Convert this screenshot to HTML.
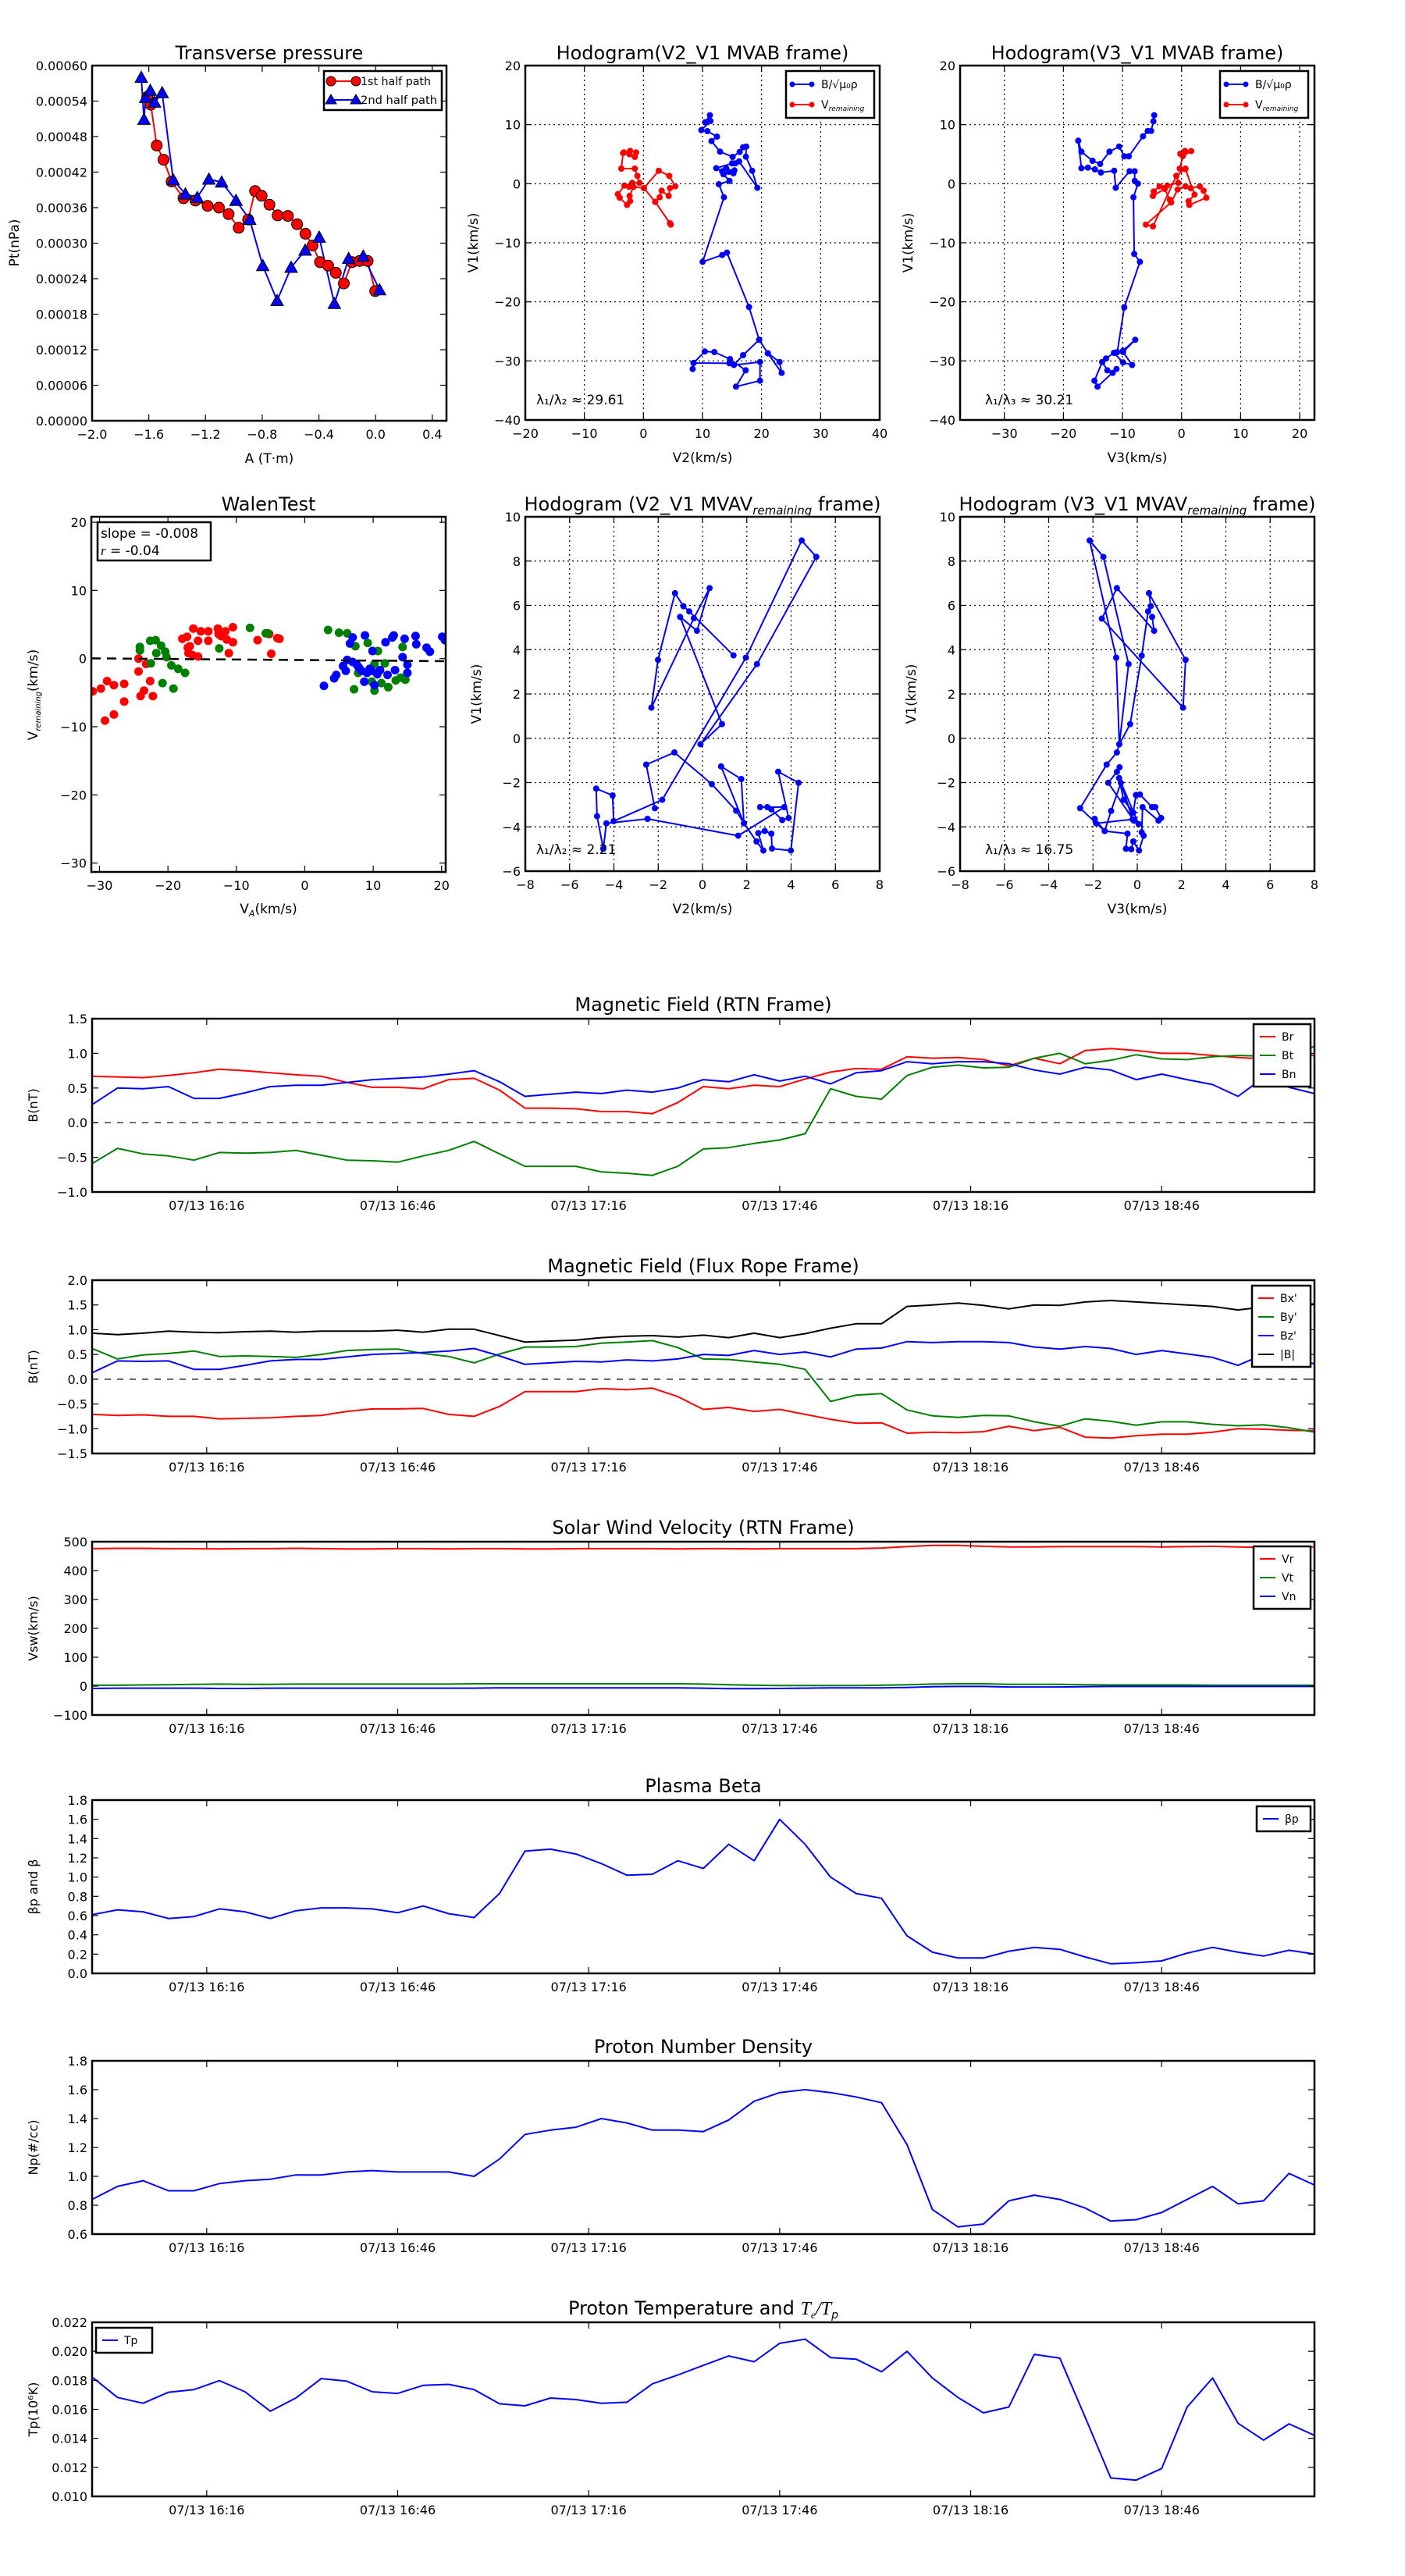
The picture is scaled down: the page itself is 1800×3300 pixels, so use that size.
<!DOCTYPE html>
<html><head><meta charset="utf-8"><title>Flux rope analysis</title>
<style>
html,body{margin:0;padding:0;background:#fff;}
svg{display:block;font-family:"DejaVu Sans","Liberation Sans",sans-serif;}
</style></head>
<body>
<svg id="fig" width="1800" height="3300" viewBox="0 0 1800 3300" xmlns="http://www.w3.org/2000/svg">
<rect x="0" y="0" width="1800" height="3300" fill="#fff"/>
</svg>
<script>
// ---------------- DATA ----------------
const tpRedA=[-1.611,-1.586,-1.544,-1.496,-1.439,-1.355,-1.271,-1.185,-1.105,-1.037,-0.966,-0.899,-0.850,-0.804,-0.749,-0.691,-0.619,-0.554,-0.495,-0.445,-0.392,-0.335,-0.281,-0.224,-0.167,-0.113,-0.056,-0.003];
const tpRedPt=[0.000547,0.000534,0.000465,0.000441,0.000404,0.000376,0.000372,0.000363,0.000360,0.000349,0.000326,0.000340,0.000388,0.000380,0.000365,0.000347,0.000346,0.000332,0.000316,0.000296,0.000268,0.000262,0.000250,0.000232,0.000268,0.000270,0.000270,0.000219];
const tpBlueA=[-1.653,-1.634,-1.622,-1.590,-1.559,-1.506,-1.428,-1.342,-1.258,-1.176,-1.086,-0.985,-0.888,-0.796,-0.695,-0.596,-0.497,-0.398,-0.291,-0.190,-0.087,0.028];
const tpBluePt=[0.000580,0.000509,0.000546,0.000558,0.000538,0.000554,0.000407,0.000383,0.000377,0.000408,0.000403,0.000372,0.000340,0.000262,0.000203,0.000259,0.000288,0.000310,0.000198,0.000274,0.000278,0.000221];
const tpXTicks=[-2.0,-1.6,-1.2,-0.8,-0.4,0.0,0.4];
const tpXLabels=["\u22122.0","\u22121.6","\u22121.2","\u22120.8","\u22120.4","0.0","0.4"];
const tpYTicks=[0,0.00006,0.00012,0.00018,0.00024,0.00030,0.00036,0.00042,0.00048,0.00054,0.00060];
const tpYLabels=["0.00000","0.00006","0.00012","0.00018","0.00024","0.00030","0.00036","0.00042","0.00048","0.00054","0.00060"];

const h1BV2=[11.26,10.46,11.35,9.80,10.82,12.45,11.52,12.98,15.10,16.29,16.87,17.40,17.35,18.41,19.29,16.20,15.54,15.01,12.32,13.33,14.00,14.44,15.23,15.41,13.55,14.57,12.76,13.64,10.02,13.33,14.13,17.88,19.60,21.06,23.05,23.40,21.06,19.60,16.87,15.32,19.74,19.74,15.67,17.31,14.66,12.01,10.38,8.48,8.34,8.48,14.57];
const h1BV1=[11.59,10.40,10.62,9.07,8.90,7.97,7.22,5.42,4.54,5.37,6.17,6.30,4.58,2.20,-0.70,3.79,3.44,3.44,2.64,2.11,2.64,2.03,1.76,2.25,1.59,0.48,-0.09,-2.29,-13.22,-12.07,-11.67,-20.88,-26.43,-28.72,-30.18,-32.03,-28.72,-26.43,-29.03,-30.70,-30.18,-33.35,-34.36,-31.59,-29.69,-28.50,-28.41,-30.35,-31.37,-30.35,-30.40];
const h1VV2=[-3.31,-2.25,-1.24,-1.46,-2.34,-3.44,-3.75,-1.46,-1.02,-0.66,-1.90,-2.43,-3.22,-4.33,-4.02,-2.78,-2.25,-2.34,-1.68,0.09,1.99,4.64,4.50,1.99,2.74,3.09,4.28,4.50,5.39,4.37,2.60,0.09];
const h1VV1=[5.29,5.55,5.29,4.54,4.98,5.20,2.56,2.56,1.32,0.13,0.13,-0.53,-0.31,-1.76,-2.38,-3.61,-2.95,-2.07,-0.53,-0.75,-3.08,-6.92,-6.70,-3.08,-2.29,-1.19,-2.07,-0.75,-0.44,1.32,2.20,-0.75];
const h2BV3=[-4.63,-4.76,-5.15,-5.73,-6.52,-8.94,-9.69,-10.57,-12.20,-13.79,-15.07,-16.96,-17.49,-16.96,-15.86,-14.67,-13.66,-11.41,-11.15,-8.81,-7.93,-7.93,-7.40,-8.15,-8.02,-7.05,-9.69,-10.88,-9.91,-7.84,-9.91,-8.37,-9.91,-11.45,-12.78,-13.44,-12.56,-11.67,-11.01,-14.23,-14.76,-13.44];
const h2BV1=[11.59,10.57,8.94,8.94,8.02,4.63,4.63,6.30,5.42,3.35,3.88,5.42,7.27,2.64,2.73,2.42,1.89,2.20,-0.70,2.11,2.11,0.48,0.00,-2.29,-11.89,-13.22,-20.93,-28.50,-28.28,-26.43,-28.50,-30.70,-30.26,-28.63,-29.60,-30.18,-31.59,-32.03,-31.37,-34.36,-33.35,-30.18];
const h2VV3=[-0.22,0.57,1.63,0.22,-0.31,0.66,-0.88,-0.53,-2.42,-3.74,-4.71,-4.85,-2.86,-1.98,-1.76,-0.66,0.66,1.54,3.08,3.74,4.19,1.32,1.19,2.20,0.66,-0.88,-4.85,-6.04,-1.76];
const h2VV1=[5.07,5.55,5.51,4.67,2.56,2.56,1.32,0.13,-0.31,-0.44,-1.32,-2.07,-0.88,-2.73,-3.17,-0.97,-0.44,-0.75,-0.44,-1.19,-2.38,-3.61,-2.95,-1.85,2.47,1.32,-7.22,-6.92,-3.17];
const walRedVA=[-31.0,-29.8,-28.9,-27.9,-26.4,-26.4,-27.9,-29.2,-24.3,-24.3,-23.2,-22.6,-23.5,-24.0,-22.2,-17.9,-17.2,-16.3,-15.2,-14.1,-12.7,-11.6,-10.5,-15.6,-14.1,-12.6,-12.2,-11.4,-10.5,-16.8,-17.0,-16.4,-15.6,-17.1,-11.1,-6.9,-4.9,-4.0,-3.7,-5.2];
const walRedV=[-4.8,-4.4,-3.3,-3.9,-3.7,-6.3,-8.2,-9.1,0.0,-1.9,-0.8,-3.3,-4.7,-5.5,-5.5,2.9,3.2,4.4,4.0,4.0,4.4,4.0,4.6,2.6,2.6,3.6,3.3,2.8,2.4,1.8,0.8,0.5,0.3,1.6,0.8,2.7,0.7,3.0,2.9,3.6];
const walGreenVA=[-24.1,-24.1,-22.6,-21.8,-21.0,-21.7,-20.4,-20.2,-19.5,-18.5,-17.5,-20.8,-19.2,-22.5,-12.5,-8.0,-5.7,-5.4,3.4,5.0,6.2,7.4,9.2,10.7,14.3,7.2,10.2,10.2,11.7,7.8,9.8,11.2,12.2,13.3,14.7,14.0];
const walGreenV=[1.7,1.2,2.6,2.7,1.9,0.8,1.0,0.2,-1.0,-1.5,-2.1,-3.6,-4.4,-0.7,1.5,4.5,3.7,3.7,4.2,3.8,3.7,1.8,2.3,1.1,1.7,-4.5,-4.7,-0.8,-0.7,-2.1,-3.4,-3.6,-4.2,-3.2,-3.1,-2.8];
const walBlueVA=[2.8,4.3,4.6,6.0,5.6,6.2,6.6,7.0,8.8,9.9,11.8,12.8,13.0,14.6,16.2,16.3,17.8,18.3,20.1,20.5,14.3,15.0,15.0,13.2,12.1,11.0,9.8,9.1,8.3,7.6,7.0,8.7,10.2,10.6,9.5,7.9];
const walBlueV=[-4.0,-2.9,-2.4,-1.8,-1.1,-0.2,2.2,3.1,3.4,1.1,2.4,3.1,3.4,2.9,3.3,2.1,1.6,1.0,3.2,2.7,0.2,-0.9,-2.1,-1.7,-2.4,-1.7,-1.8,-2.1,-1.8,-0.9,-0.5,-3.4,-3.9,-2.3,-1.5,-1.3];
const walFit=[-0.008,-0.22];
const h3V2=[1.40,-0.60,-0.86,-1.24,-2.01,-2.31,-0.39,0.32,-0.25,-1.01,0.88,-0.09,2.46,5.14,4.48,1.96,-1.82,-4.01,-4.06,-4.80,-4.76,-4.48,-4.34,-2.48,1.61,3.69,2.60,2.93,3.11,3.60,3.89,3.42,4.34,3.99,3.14,3.11,2.81,2.52,2.75,2.44,1.87,0.84,1.75,1.87,1.52,0.42,-1.27,-2.54,-2.15];
const h3V1=[3.74,5.73,5.96,6.55,3.54,1.38,5.42,6.78,4.85,5.48,0.64,-0.27,3.35,8.19,8.93,3.64,-2.78,-3.74,-2.58,-2.27,-3.52,-4.99,-3.84,-3.64,-4.40,-3.11,-3.11,-3.11,-3.21,-3.69,-3.60,-1.51,-2.01,-5.07,-4.98,-4.31,-4.19,-4.28,-5.07,-4.66,-3.84,-1.27,-1.84,-3.84,-3.27,-2.07,-0.64,-1.19,-3.16];
const h4V3=[-0.80,-0.92,-1.31,-0.15,0.06,-0.82,-0.62,-0.18,-0.06,0.12,0.67,0.81,1.08,0.96,0.24,0.20,0.29,0.08,-0.18,-0.27,-0.51,-0.44,-1.47,-1.92,-1.86,-0.21,-0.74,-1.18,-1.47,-2.58,-1.38,-0.92,-0.81,-0.95,-2.15,-1.53,-0.39,-0.81,-0.32,0.20,0.49,0.61,0.53,2.18,2.07,-1.60,-0.92,0.76,0.67];
const h4V1=[-1.31,-1.52,-2.01,-3.72,-3.87,-1.80,-2.78,-3.36,-2.56,-2.54,-3.11,-3.11,-3.60,-3.72,-3.11,-4.25,-4.40,-5.07,-4.66,-5.01,-4.99,-4.31,-4.19,-3.64,-3.84,-3.66,-2.01,-3.28,-4.19,-3.16,-1.19,-0.64,-0.27,3.64,8.93,8.19,3.35,-0.27,0.64,3.73,5.73,5.96,6.55,3.54,1.38,5.40,6.78,4.85,5.48];

const sampleMinutes=[0,4,8,12,16,20,24,28,32,36,40,44,48,52,56,60,64,68,72,76,80,84,88,92,96,100,104,108,112,116,120,124,128,132,136,140,144,148,152,156,160,164,168,172,176,180,184,188,192];
const timeTickMinutes=[18,48,78,108,138,168];
const timeTickLabels=["07/13 16:16","07/13 16:46","07/13 17:16","07/13 17:46","07/13 18:16","07/13 18:46"];
const Br=[0.67,0.66,0.65,0.68,0.72,0.77,0.75,0.72,0.69,0.67,0.58,0.51,0.51,0.49,0.62,0.64,0.47,0.21,0.21,0.20,0.16,0.16,0.13,0.29,0.52,0.49,0.54,0.52,0.63,0.73,0.78,0.77,0.95,0.93,0.94,0.91,0.82,0.93,0.85,1.04,1.07,1.04,1.00,1.00,0.97,0.94,0.92,0.97,0.97];
const Bt=[-0.59,-0.37,-0.45,-0.48,-0.54,-0.43,-0.44,-0.43,-0.40,-0.47,-0.54,-0.55,-0.57,-0.48,-0.40,-0.27,-0.45,-0.63,-0.63,-0.63,-0.71,-0.73,-0.76,-0.63,-0.38,-0.36,-0.30,-0.25,-0.16,0.49,0.38,0.34,0.68,0.80,0.83,0.79,0.80,0.93,1.00,0.85,0.90,0.98,0.92,0.91,0.95,0.97,0.96,0.97,1.10];
const Bn=[0.26,0.50,0.49,0.52,0.35,0.35,0.43,0.52,0.54,0.54,0.58,0.62,0.64,0.66,0.70,0.75,0.59,0.38,0.41,0.44,0.42,0.47,0.44,0.50,0.62,0.59,0.69,0.60,0.67,0.56,0.72,0.75,0.88,0.85,0.88,0.88,0.85,0.76,0.70,0.80,0.76,0.62,0.70,0.62,0.55,0.38,0.65,0.51,0.42];
const Bx=[-0.71,-0.73,-0.72,-0.75,-0.75,-0.80,-0.79,-0.78,-0.75,-0.73,-0.65,-0.60,-0.60,-0.59,-0.71,-0.75,-0.55,-0.25,-0.25,-0.25,-0.19,-0.21,-0.18,-0.35,-0.61,-0.57,-0.65,-0.61,-0.71,-0.81,-0.89,-0.88,-1.09,-1.07,-1.08,-1.06,-0.95,-1.04,-0.97,-1.17,-1.19,-1.14,-1.11,-1.11,-1.07,-1.00,-1.01,-1.03,-1.04];
const By=[0.62,0.41,0.49,0.52,0.57,0.46,0.47,0.46,0.44,0.50,0.58,0.60,0.61,0.52,0.46,0.33,0.51,0.65,0.65,0.66,0.73,0.75,0.78,0.64,0.41,0.40,0.35,0.30,0.20,-0.45,-0.32,-0.29,-0.62,-0.74,-0.77,-0.73,-0.74,-0.86,-0.95,-0.80,-0.85,-0.93,-0.86,-0.86,-0.91,-0.94,-0.92,-0.98,-1.07];
const Bz=[0.13,0.37,0.36,0.37,0.20,0.20,0.28,0.37,0.40,0.40,0.45,0.50,0.52,0.54,0.57,0.62,0.47,0.30,0.33,0.36,0.35,0.39,0.37,0.41,0.50,0.48,0.58,0.50,0.55,0.45,0.61,0.63,0.76,0.74,0.76,0.76,0.74,0.65,0.61,0.66,0.62,0.50,0.58,0.51,0.44,0.28,0.50,0.43,0.31];
const Bmag=[0.93,0.90,0.93,0.97,0.95,0.94,0.96,0.97,0.95,0.97,0.97,0.97,0.99,0.95,1.01,1.01,0.88,0.75,0.77,0.79,0.84,0.87,0.88,0.85,0.89,0.84,0.93,0.84,0.92,1.03,1.12,1.12,1.47,1.50,1.54,1.49,1.42,1.50,1.49,1.56,1.59,1.56,1.53,1.50,1.47,1.40,1.46,1.49,1.52];
const Vr=[476,477,477,476,476,475,476,476,477,476,475,475,476,476,475,476,476,475,475,476,476,476,476,475,476,476,475,476,476,476,476,478,483,487,487,484,482,482,483,483,483,483,482,483,484,482,480,482,482];
const Vt=[3,3,4,5,6,7,6,6,7,7,7,7,7,7,7,8,8,8,8,8,8,8,8,8,7,5,3,2,2,2,2,3,5,7,8,8,6,6,6,5,4,4,4,4,3,3,3,3,3];
const Vn=[-8,-7,-7,-7,-7,-8,-8,-7,-7,-7,-7,-7,-7,-7,-7,-7,-6,-6,-6,-6,-6,-6,-6,-6,-7,-9,-9,-8,-7,-6,-6,-6,-5,-2,-1,-1,-3,-3,-3,-2,-1,-1,-1,-1,-1,-1,-1,-1,-1];
const beta=[0.61,0.66,0.64,0.57,0.59,0.67,0.64,0.57,0.65,0.68,0.68,0.67,0.63,0.70,0.62,0.58,0.83,1.27,1.29,1.24,1.14,1.02,1.03,1.17,1.09,1.34,1.17,1.60,1.34,1.00,0.83,0.78,0.39,0.22,0.16,0.16,0.23,0.27,0.25,0.17,0.10,0.11,0.13,0.21,0.27,0.22,0.18,0.24,0.20];
const Np=[0.84,0.93,0.97,0.90,0.90,0.95,0.97,0.98,1.01,1.01,1.03,1.04,1.03,1.03,1.03,1.00,1.12,1.29,1.32,1.34,1.40,1.37,1.32,1.32,1.31,1.39,1.52,1.58,1.60,1.58,1.55,1.51,1.22,0.77,0.65,0.67,0.83,0.87,0.84,0.78,0.69,0.70,0.75,0.84,0.93,0.81,0.83,1.02,0.94];
const Tp=[0.01823,0.01682,0.01642,0.01718,0.01736,0.01798,0.01721,0.01587,0.01678,0.01812,0.01794,0.01721,0.0171,0.01765,0.01772,0.01736,0.01638,0.01624,0.01678,0.01667,0.01642,0.01649,0.01776,0.01837,0.01903,0.01968,0.01928,0.02055,0.02084,0.01957,0.01946,0.01859,0.02000,0.01816,0.01682,0.01576,0.01616,0.01979,0.01953,0.01544,0.01127,0.01112,0.01192,0.01616,0.01816,0.01504,0.01388,0.01500,0.01420];

// ---------------- DRAWING ----------------
const NS='http://www.w3.org/2000/svg';
const svg=document.getElementById('fig');
let clipId=0;
function mk(tag,parent){const e=document.createElementNS(NS,tag);(parent||svg).appendChild(e);return e;}
function txt(parent,x,y,s,size,anchor,nm){
  const t=mk('text',parent);
  t.setAttribute('x',x);t.setAttribute('y',y);t.setAttribute('font-size',size);
  t.setAttribute('text-anchor',anchor||'middle');t.setAttribute('fill','#000');
  t.textContent=s;
  
  
  return t;
}
function makeAxes(nm,x0,y0,x1,y1,xmin,xmax,ymin,ymax){
  const g=mk('g');
  
  
  const cid='clip'+(clipId++);
  const cp=mk('clipPath',g);cp.setAttribute('id',cid);
  const cr=mk('rect',cp);cr.setAttribute('x',x0);cr.setAttribute('y',y0);cr.setAttribute('width',x1-x0);cr.setAttribute('height',y1-y0);
  const data=mk('g');data.setAttribute('clip-path','url(#'+cid+')');
  
  
  g.appendChild(data);
  return {g,data,x0,y0,x1,y1,
    sx:v=>x0+(v-xmin)/(xmax-xmin)*(x1-x0),
    sy:v=>y1-(v-ymin)/(ymax-ymin)*(y1-y0)};
}
function frame(ax){
  const r=mk('rect',ax.g);
  r.setAttribute('x',ax.x0);r.setAttribute('y',ax.y0);r.setAttribute('width',ax.x1-ax.x0);r.setAttribute('height',ax.y1-ax.y0);
  r.setAttribute('fill','none');r.setAttribute('stroke','#000');r.setAttribute('stroke-width','2.5');
  
  
}
function hline(p,x1,y1,x2,y2,stroke,w,dash){
  const l=mk('line',p);
  l.setAttribute('x1',x1);l.setAttribute('y1',y1);l.setAttribute('x2',x2);l.setAttribute('y2',y2);
  l.setAttribute('stroke',stroke);l.setAttribute('stroke-width',w);
  if(dash)l.setAttribute('stroke-dasharray',dash);
  return l;
}
function xTicks(ax,vals,labels,grid,size){
  const tg=mk('g',ax.g);
  
  
  vals.forEach((v,i)=>{
    const x=ax.sx(v);
    if(grid) hline(tg,x,ax.y0,x,ax.y1,'#000',1.2,'2,4');
    hline(tg,x,ax.y1,x,ax.y1-8,'#000',1.2);
    hline(tg,x,ax.y0,x,ax.y0+8,'#000',1.2);
    txt(tg,x,ax.y1+23,labels[i],size||16,'middle','x-tick-label');
  });
}
function yTicks(ax,vals,labels,grid,size){
  const tg=mk('g',ax.g);
  
  
  vals.forEach((v,i)=>{
    const y=ax.sy(v);
    if(grid) hline(tg,ax.x0,y,ax.x1,y,'#000',1.2,'2,4');
    hline(tg,ax.x0,y,ax.x0+8,y,'#000',1.2);
    hline(tg,ax.x1,y,ax.x1-8,y,'#000',1.2);
    txt(tg,ax.x0-6,y+6,labels[i],size||16,'end','y-tick-label');
  });
}
function polyline(ax,xs,ys,color,w,nm){
  const p=mk('polyline',ax.data);
  p.setAttribute('points',xs.map((x,i)=>ax.sx(x).toFixed(1)+','+ax.sy(ys[i]).toFixed(1)).join(' '));
  p.setAttribute('fill','none');p.setAttribute('stroke',color);p.setAttribute('stroke-width',w);
  p.setAttribute('stroke-linejoin','round');
  
  
  return p;
}
function dots(ax,xs,ys,color,r,edge,nm){
  const g=mk('g',ax.data);
  
  
  xs.forEach((x,i)=>{
    const c=mk('circle',g);
    c.setAttribute('cx',ax.sx(x).toFixed(1));c.setAttribute('cy',ax.sy(ys[i]).toFixed(1));c.setAttribute('r',r);
    c.setAttribute('fill',color);
    if(edge){c.setAttribute('stroke','#000');c.setAttribute('stroke-width','1');}
    
    
  });
}
function tris(ax,xs,ys,color,s,nm){
  const g=mk('g',ax.data);
  
  
  xs.forEach((x,i)=>{
    const cx=ax.sx(x),cy=ax.sy(ys[i]);
    const p=mk('polygon',g);
    p.setAttribute('points',cx+','+(cy-s)+' '+(cx+s)+','+(cy+s*0.8)+' '+(cx-s)+','+(cy+s*0.8));
    p.setAttribute('fill',color);p.setAttribute('stroke','#000');p.setAttribute('stroke-width','1');
    
    
  });
}
function ylabelRot(x,y,s,size,nm){
  const t=txt(svg,x,y,s,size,'middle',nm);
  t.setAttribute('transform','rotate(-90 '+x+' '+y+')');
  return t;
}
function legendBox(x,y,w,h,nm){
  const g=mk('g');
  
  
  const r=mk('rect',g);
  r.setAttribute('x',x);r.setAttribute('y',y);r.setAttribute('width',w);r.setAttribute('height',h);
  r.setAttribute('fill','#fff');r.setAttribute('stroke','#000');r.setAttribute('stroke-width','2.5');
  return g;
}

// ===== Panel A =====
(function(){
  const ax=makeAxes('transverse-pressure-chart',118,84,572,539,-2.0,0.5,0,0.0006);
  txt(svg,345,76,'Transverse pressure',24,'middle','chart-title');
  polyline(ax,tpRedA,tpRedPt,'#f00',2,'first-half-line');
  polyline(ax,tpBlueA,tpBluePt,'#00f',2,'second-half-line');
  dots(ax,tpRedA,tpRedPt,'#f00',7,true,'first-half-markers');
  tris(ax,tpBlueA,tpBluePt,'#00f',8,'second-half-markers');
  xTicks(ax,tpXTicks,tpXLabels,false);
  yTicks(ax,tpYTicks,tpYLabels,false);
  frame(ax);
  txt(svg,345,593,'A (T\u00B7m)',17,'middle','x-axis-title');
  ylabelRot(24,311,'Pt(nPa)',17,'y-axis-title');
  const lg=legendBox(415,91,151,50,'legend');
  hline(lg,424,104,456,104,'#f00',2);
  [424,456].forEach(x=>{const c=mk('circle',lg);c.setAttribute('cx',x);c.setAttribute('cy',104);c.setAttribute('r',6);c.setAttribute('fill','#f00');c.setAttribute('stroke','#000');});
  const l1=txt(lg,462,109,'1st half path',14,'start','legend-label');
  l1.setAttribute('textLength','90');l1.setAttribute('lengthAdjust','spacingAndGlyphs');
  hline(lg,424,128,456,128,'#00f',2);
  [424,456].forEach(x=>{const p=mk('polygon',lg);p.setAttribute('points',x+','+(128-7)+' '+(x+7)+','+(128+5)+' '+(x-7)+','+(128+5));p.setAttribute('fill','#00f');p.setAttribute('stroke','#000');});
  const l2=txt(lg,462,133,'2nd half path',14,'start','legend-label');
  l2.setAttribute('textLength','98');l2.setAttribute('lengthAdjust','spacingAndGlyphs');
})();

function hodoLegend(x,y){
  const lg=legendBox(x,y,113,60,'legend');
  hline(lg,x+8,y+17,x+33,y+17,'#00f',2);
  [x+8,x+33].forEach(cx=>{const c=mk('circle',lg);c.setAttribute('cx',cx);c.setAttribute('cy',y+17);c.setAttribute('r',3.5);c.setAttribute('fill','#00f');});
  txt(lg,x+45,y+22,'B/\u221A\u03BC\u2080\u03C1',14,'start','legend-label');
  hline(lg,x+8,y+43,x+33,y+43,'#f00',2);
  [x+8,x+33].forEach(cx=>{const c=mk('circle',lg);c.setAttribute('cx',cx);c.setAttribute('cy',y+43);c.setAttribute('r',3.5);c.setAttribute('fill','#f00');});
  const t=txt(lg,x+45,y+48,'V',14,'start','legend-label');
  const ts=mk('tspan',t);ts.setAttribute('font-size','9');ts.setAttribute('font-style','italic');ts.setAttribute('dy','3');ts.textContent='remaining';
}
const hXT1=[-20,-10,0,10,20,30,40],hXL1=["\u221220","\u221210","0","10","20","30","40"];
const hYT1=[-40,-30,-20,-10,0,10,20],hYL1=["\u221240","\u221230","\u221220","\u221210","0","10","20"];
(function(){
  const ax=makeAxes('hodogram-v2-v1-mvab',673,84,1127,538,-20,40,-40,20);
  txt(svg,900,76,'Hodogram(V2_V1 MVAB frame)',24,'middle','chart-title');
  xTicks(ax,hXT1,hXL1,true);yTicks(ax,hYT1,hYL1,true);
  polyline(ax,h1BV2,h1BV1,'#00f',2,'b-alfven-path');
  dots(ax,h1BV2,h1BV1,'#00f',4,false,'b-alfven-markers');
  polyline(ax,h1VV2,h1VV1,'#f00',2,'v-remaining-path');
  dots(ax,h1VV2,h1VV1,'#f00',4,false,'v-remaining-markers');
  frame(ax);
  hodoLegend(1007,91);
  txt(svg,687,518,'\u03BB\u2081/\u03BB\u2082 \u2248 29.61',17,'start','eigenvalue-ratio');
  txt(svg,900,592,'V2(km/s)',17,'middle','x-axis-title');
  ylabelRot(612,311,'V1(km/s)',17,'y-axis-title');
})();
(function(){
  const ax=makeAxes('hodogram-v3-v1-mvab',1230,84,1684,538,-37.5,22.5,-40,20);
  txt(svg,1457,76,'Hodogram(V3_V1 MVAB frame)',24,'middle','chart-title');
  xTicks(ax,[-30,-20,-10,0,10,20],["\u221230","\u221220","\u221210","0","10","20"],true);yTicks(ax,hYT1,hYL1,true);
  polyline(ax,h2BV3,h2BV1,'#00f',2,'b-alfven-path');
  dots(ax,h2BV3,h2BV1,'#00f',4,false,'b-alfven-markers');
  polyline(ax,h2VV3,h2VV1,'#f00',2,'v-remaining-path');
  dots(ax,h2VV3,h2VV1,'#f00',4,false,'v-remaining-markers');
  frame(ax);
  hodoLegend(1563,91);
  txt(svg,1262,518,'\u03BB\u2081/\u03BB\u2083 \u2248 30.21',17,'start','eigenvalue-ratio');
  txt(svg,1457,592,'V3(km/s)',17,'middle','x-axis-title');
  ylabelRot(1169,311,'V1(km/s)',17,'y-axis-title');
})();
(function(){
  const ax=makeAxes('walen-test-chart',117,662,571,1117,-31.2,20.6,-31.3,20.8);
  txt(svg,344,654,'WalenTest',24,'middle','chart-title');
  dots(ax,walRedVA,walRedV,'#f00',5.5,false,'red-points');
  dots(ax,walGreenVA,walGreenV,'#008000',5.5,false,'green-points');
  dots(ax,walBlueVA,walBlueV,'#00f',5.5,false,'blue-points');
  const fx=[-31.2,20.6];
  const fl=hline(ax.data,ax.sx(fx[0]),ax.sy(walFit[0]*fx[0]+walFit[1]),ax.sx(fx[1]),ax.sy(walFit[0]*fx[1]+walFit[1]),'#000',2.5,'12,8');
  
  
  xTicks(ax,[-30,-20,-10,0,10,20],["\u221230","\u221220","\u221210","0","10","20"],false);
  yTicks(ax,[-30,-20,-10,0,10,20],["\u221230","\u221220","\u221210","0","10","20"],false);
  frame(ax);
  const lg=legendBox(125,669,145,49,'fit-stats-box');
  txt(lg,129,689,'slope = -0.008',17,'start','slope-text');
  const r=txt(lg,129,711,'',17,'start','r-text');
  const ri=mk('tspan',r);ri.setAttribute('font-style','italic');ri.setAttribute('font-family','"Liberation Serif",serif');ri.textContent='r';
  const rt=mk('tspan',r);rt.textContent=' = -0.04';
  const xl=txt(svg,344,1170,'V',17,'middle','x-axis-title');
  const xs=mk('tspan',xl);xs.setAttribute('font-size','11');xs.setAttribute('font-style','italic');xs.setAttribute('dy','4');xs.textContent='A';
  const xs2=mk('tspan',xl);xs2.setAttribute('dy','-4');xs2.textContent='(km/s)';
  const yl=ylabelRot(48,890,'V',17,'y-axis-title');
  const ys=mk('tspan',yl);ys.setAttribute('font-size','10');ys.setAttribute('font-style','italic');ys.setAttribute('dy','4');ys.textContent='remaining';
  const ys2=mk('tspan',yl);ys2.setAttribute('dy','-4');ys2.textContent='(km/s)';
})();
const hXT3=[-8,-6,-4,-2,0,2,4,6,8],hXL3=["\u22128","\u22126","\u22124","\u22122","0","2","4","6","8"];
const hYT3=[-6,-4,-2,0,2,4,6,8,10],hYL3=["\u22126","\u22124","\u22122","0","2","4","6","8","10"];
function remTitle(x,y,a){
  const t=txt(svg,x,y,'Hodogram ('+a+'_V1 MVAV',24,'middle','chart-title');
  const s=mk('tspan',t);s.setAttribute('font-size','15');s.setAttribute('font-style','italic');s.setAttribute('dy','5');s.textContent='remaining';
  const s2=mk('tspan',t);s2.setAttribute('dy','-5');s2.textContent=' frame)';
}
(function(){
  const ax=makeAxes('hodogram-v2-v1-mvav',673,662,1127,1116,-8,8,-6,10);
  remTitle(900,654,'V2');
  xTicks(ax,hXT3,hXL3,true);yTicks(ax,hYT3,hYL3,true);
  polyline(ax,h3V2,h3V1,'#00f',2,'hodogram-path');
  dots(ax,h3V2,h3V1,'#00f',4,false,'hodogram-markers');
  frame(ax);
  txt(svg,687,1094,'\u03BB\u2081/\u03BB\u2082 \u2248 2.21',17,'start','eigenvalue-ratio');
  txt(svg,900,1170,'V2(km/s)',17,'middle','x-axis-title');
  ylabelRot(616,889,'V1(km/s)',17,'y-axis-title');
})();
(function(){
  const ax=makeAxes('hodogram-v3-v1-mvav',1230,662,1684,1116,-8,8,-6,10);
  remTitle(1457,654,'V3');
  xTicks(ax,hXT3,hXL3,true);yTicks(ax,hYT3,hYL3,true);
  polyline(ax,h4V3,h4V1,'#00f',2,'hodogram-path');
  dots(ax,h4V3,h4V1,'#00f',4,false,'hodogram-markers');
  frame(ax);
  txt(svg,1262,1094,'\u03BB\u2081/\u03BB\u2083 \u2248 16.75',17,'start','eigenvalue-ratio');
  txt(svg,1457,1170,'V3(km/s)',17,'middle','x-axis-title');
  ylabelRot(1173,889,'V1(km/s)',17,'y-axis-title');
})();

function timePanel(nm,y0,y1,ymin,ymax,yt,yl,ylab,titleFn,series,legend,zero){
  const ax=makeAxes(nm,118,y0,1684,y1,0,192,ymin,ymax);
  titleFn(y0-10);
  if(zero){const z=hline(ax.data,118,ax.sy(0),1684,ax.sy(0),'#000',1.2,'8,8');
    
    }
  series.forEach(s=>polyline(ax,sampleMinutes,s.v,s.c,2,s.n));
  xTicks(ax,timeTickMinutes,timeTickLabels,false,16);
  yTicks(ax,yt,yl,false,16);
  frame(ax);
  ylabelRot(48,(y0+y1)/2,ylab,16,'y-axis-title');
  if(legend){
    const lg=legendBox(legend.x,legend.y,legend.w,8+series.length*24,'legend');
    series.forEach((s,i)=>{
      const yy=legend.y+16+i*24;
      hline(lg,legend.x+8,yy,legend.x+28,yy,s.c,2);
      txt(lg,legend.x+36,yy+5,s.label,14,'start','legend-label');
    });
  }
  return ax;
}
function simpleTitle(s){return y=>txt(svg,901,y,s,24,'middle','chart-title');}

timePanel('magnetic-field-rtn-chart',1305,1527,-1.0,1.5,[-1.0,-0.5,0,0.5,1.0,1.5],["\u22121.0","\u22120.5","0.0","0.5","1.0","1.5"],'B(nT)',simpleTitle('Magnetic Field (RTN Frame)'),
  [{v:Br,c:'#f00',n:'br-line',label:'Br'},{v:Bt,c:'#008000',n:'bt-line',label:'Bt'},{v:Bn,c:'#00f',n:'bn-line',label:'Bn'}],{x:1606,y:1312,w:73},true);
timePanel('magnetic-field-flux-rope-chart',1640,1862,-1.5,2.0,[-1.5,-1.0,-0.5,0,0.5,1.0,1.5,2.0],["\u22121.5","\u22121.0","\u22120.5","0.0","0.5","1.0","1.5","2.0"],'B(nT)',simpleTitle('Magnetic Field (Flux Rope Frame)'),
  [{v:Bx,c:'#f00',n:'bx-line',label:"Bx'"},{v:By,c:'#008000',n:'by-line',label:"By'"},{v:Bz,c:'#00f',n:'bz-line',label:"Bz'"},{v:Bmag,c:'#000',n:'bmag-line',label:'|B|'}],{x:1604,y:1647,w:75},true);
timePanel('solar-wind-velocity-chart',1975,2197,-100,500,[-100,0,100,200,300,400,500],["\u2212100","0","100","200","300","400","500"],'Vsw(km/s)',simpleTitle('Solar Wind Velocity (RTN Frame)'),
  [{v:Vr,c:'#f00',n:'vr-line',label:'Vr'},{v:Vt,c:'#008000',n:'vt-line',label:'Vt'},{v:Vn,c:'#00f',n:'vn-line',label:'Vn'}],{x:1606,y:1981,w:73},false);
timePanel('plasma-beta-chart',2306,2528,0,1.8,[0,0.2,0.4,0.6,0.8,1.0,1.2,1.4,1.6,1.8],["0.0","0.2","0.4","0.6","0.8","1.0","1.2","1.4","1.6","1.8"],'\u03B2p and \u03B2',simpleTitle('Plasma Beta'),
  [{v:beta,c:'#00f',n:'beta-line',label:'\u03B2p'}],{x:1610,y:2314,w:69},false);
timePanel('proton-density-chart',2640,2862,0.6,1.8,[0.6,0.8,1.0,1.2,1.4,1.6,1.8],["0.6","0.8","1.0","1.2","1.4","1.6","1.8"],'Np(#/cc)',simpleTitle('Proton Number Density'),
  [{v:Np,c:'#00f',n:'np-line',label:'Np'}],null,false);
timePanel('proton-temperature-chart',2975,3198,0.010,0.022,[0.010,0.012,0.014,0.016,0.018,0.020,0.022],["0.010","0.012","0.014","0.016","0.018","0.020","0.022"],'Tp(10\u2076K)',
  y=>{const t=txt(svg,901,y,'Proton Temperature and ',24,'middle','chart-title');
      const a=mk('tspan',t);a.setAttribute('font-style','italic');a.setAttribute('font-family','"Liberation Serif",serif');a.textContent='T';
      const b=mk('tspan',a);b.setAttribute('font-size','14');b.setAttribute('dy','5');b.textContent='e';
      const c=mk('tspan',t);c.setAttribute('font-style','italic');c.setAttribute('font-family','"Liberation Serif",serif');c.setAttribute('dy','-5');c.textContent='/T';
      const d=mk('tspan',t);d.setAttribute('font-size','14');d.setAttribute('font-style','italic');d.setAttribute('dy','5');d.textContent='p';},
  [{v:Tp,c:'#00f',n:'tp-line',label:'Tp'}],{x:123,y:2982,w:72},false);
</script>
</body></html>
